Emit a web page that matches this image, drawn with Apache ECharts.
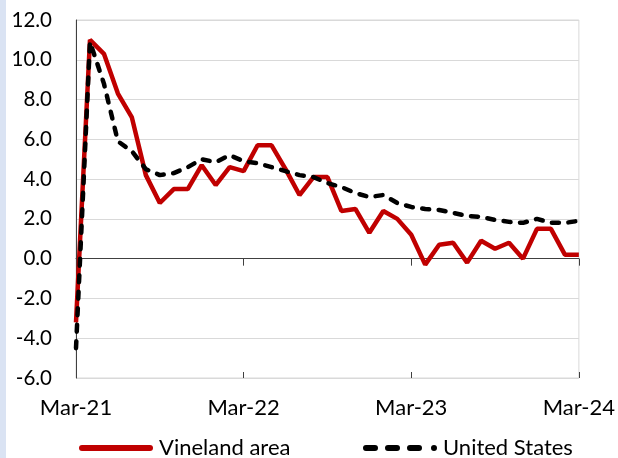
<!DOCTYPE html>
<html><head><meta charset="utf-8">
<script src="https://cdn.jsdelivr.net/npm/echarts@6/dist/echarts.min.js"></script>
<style>html,body{margin:0;padding:0;background:#fff}#c{width:618px;height:458px}</style>
</head><body><div id="c"></div>
<script>
const months = ['Mar-21','Apr-21','May-21','Jun-21','Jul-21','Aug-21','Sep-21','Oct-21','Nov-21','Dec-21',
  'Jan-22','Feb-22','Mar-22','Apr-22','May-22','Jun-22','Jul-22','Aug-22','Sep-22','Oct-22','Nov-22','Dec-22',
  'Jan-23','Feb-23','Mar-23','Apr-23','May-23','Jun-23','Jul-23','Aug-23','Sep-23','Oct-23','Nov-23','Dec-23',
  'Jan-24','Feb-24','Mar-24'];
const seriesNames = ['Vineland area', 'United States'];
const vineland = [-3.2, 11.0, 10.3, 8.3, 7.1, 4.2, 2.8, 3.5, 3.5, 4.7, 3.7, 4.6, 4.4, 5.7, 5.7, 4.5, 3.2, 4.1, 4.1,
  2.4, 2.5, 1.3, 2.4, 2.0, 1.2, -0.3, 0.7, 0.8, -0.2, 0.9, 0.5, 0.8, 0.0, 1.5, 1.5, 0.2, 0.2];
const unitedStates = [-4.5, 10.9, 8.8, 5.9, 5.4, 4.5, 4.2, 4.3, 4.6, 5.0, 4.85, 5.2, 4.9, 4.8, 4.6, 4.4, 4.2, 4.1, 3.8,
  3.6, 3.3, 3.1, 3.2, 2.8, 2.6, 2.5, 2.45, 2.3, 2.15, 2.1, 1.95, 1.85, 1.8, 2.0, 1.8, 1.8, 1.9];
const yMin = -6, yMax = 12, yStep = 2;

const FONT = 'Lato';
const solidIcon = 'path://M3,0h68a3,3 0 0 1 0,6h-68a3,3 0 0 1 0,-6z';
const dashIcon = 'path://M3,0h9a3,3 0 0 1 0,6h-9a3,3 0 0 1 0,-6z' +
  'M25,0h9a3,3 0 0 1 0,6h-9a3,3 0 0 1 0,-6z' +
  'M47,0h9a3,3 0 0 1 0,6h-9a3,3 0 0 1 0,-6z' +
  'M71,0a3,3 0 0 1 0,6a3,3 0 0 1 0,-6z';
const chart = echarts.init(document.getElementById('c'), null, {renderer: 'canvas'});
const baseX = {type: 'category', data: months, boundaryGap: false, gridIndex: 0, splitLine: {show: false}};
const legendBase = {top: 432, itemWidth: 74, itemHeight: 6, itemGap: 10,
  textStyle: {fontSize: 22, color: '#000', fontFamily: FONT, padding: [0, 0, 0, 1]}};
chart.setOption({
  animation: false,
  backgroundColor: '#fff',
  graphic: [{type: 'rect', left: 0, top: 0, shape: {width: 6, height: 458}, style: {fill: '#dae3f3'}, silent: true}],
  grid: {left: 76, right: 38, top: 20, bottom: 80, show: true, borderColor: '#d9d9d9', borderWidth: 1},
  legend: [
    Object.assign({}, legendBase, {left: 74, data: [{name: seriesNames[0], icon: solidIcon}]}),
    Object.assign({}, legendBase, {left: 358, data: [{name: seriesNames[1], icon: dashIcon}]})
  ],
  xAxis: [
    Object.assign({}, baseX, {
      position: 'bottom',
      axisLine: {onZero: true, lineStyle: {color: '#404040', width: 1}},
      axisTick: {interval: 11, length: 7, lineStyle: {color: '#404040'}},
      axisLabel: {show: false}
    }),
    Object.assign({}, baseX, {
      position: 'bottom',
      axisLine: {show: false, onZero: true},
      axisTick: {interval: 11, inside: true, length: 6, lineStyle: {color: '#404040'}},
      axisLabel: {show: false}
    }),
    Object.assign({}, baseX, {
      position: 'bottom',
      axisLine: {show: false, onZero: false},
      axisTick: {show: false},
      axisLabel: {interval: 11, fontSize: 22, color: '#000', fontFamily: FONT, margin: 19}
    })
  ],
  yAxis: {
    type: 'value', min: yMin, max: yMax, interval: yStep,
    axisLine: {show: true, lineStyle: {color: '#404040', width: 1}},
    axisTick: {show: false},
    axisLabel: {fontSize: 20.5, color: '#000', fontFamily: FONT, margin: 24, formatter: v => v.toFixed(1)},
    splitLine: {lineStyle: {color: '#d9d9d9', width: 1}}
  },
  series: [
    {name: seriesNames[0], type: 'line', xAxisIndex: 0, data: vineland, symbol: 'none', showSymbol: false,
     lineStyle: {color: '#c00000', width: 4.5}, itemStyle: {color: '#c00000'}},
    {name: seriesNames[1], type: 'line', xAxisIndex: 0, data: unitedStates, symbol: 'none', showSymbol: false,
     lineStyle: {color: '#000', width: 4.5, type: [7, 9.5], cap: 'round'}, itemStyle: {color: '#000'}}
  ]
});
</script></body></html>
